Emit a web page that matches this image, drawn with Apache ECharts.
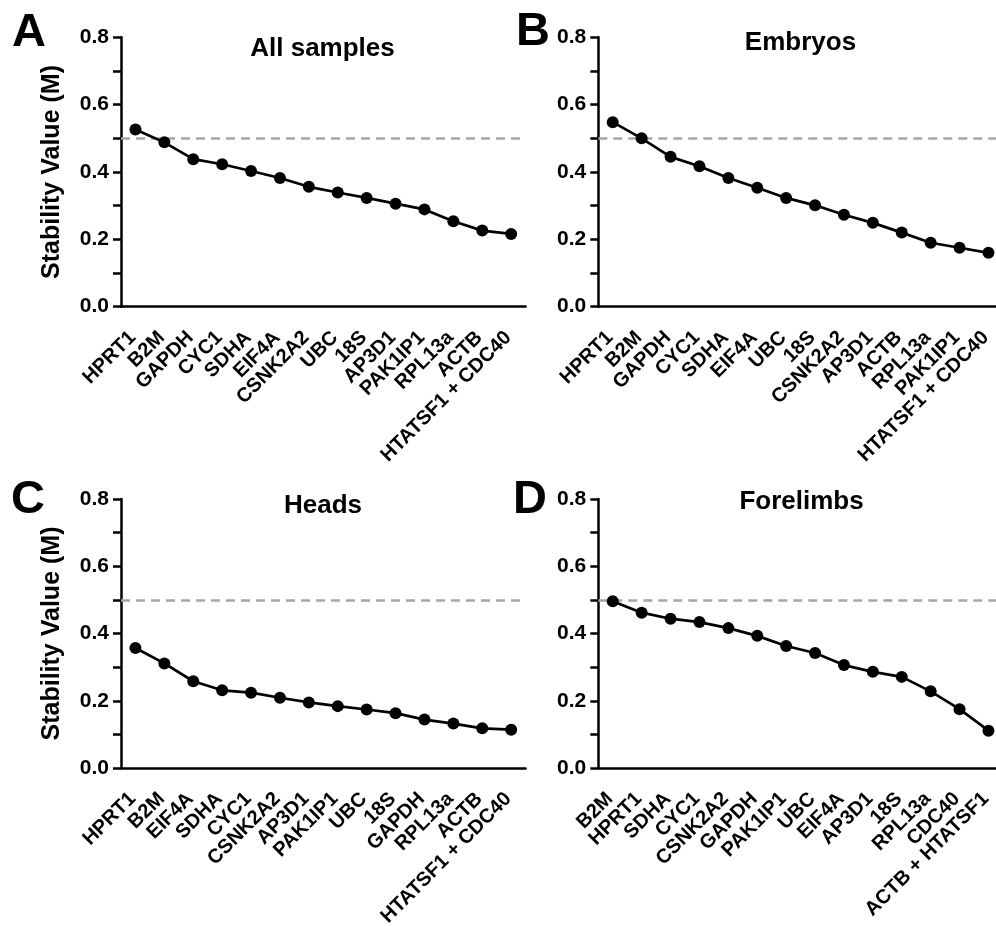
<!DOCTYPE html>
<html>
<head>
<meta charset="utf-8">
<script src="https://cdn.jsdelivr.net/npm/echarts@6/dist/echarts.min.js"></script>
<style>
html,body{margin:0;padding:0;background:#fff;}
#chart{width:996px;height:926px;}
</style>
</head>
<body>
<div id="chart"></div>
<script>
// ---- Data ----
const catsA = ['HPRT1','B2M','GAPDH','CYC1','SDHA','EIF4A','CSNK2A2','UBC','18S','AP3D1','PAK1IP1','RPL13a','ACTB','HTATSF1 + CDC40'];
const valsA = [0.526,0.488,0.438,0.423,0.403,0.382,0.356,0.339,0.323,0.306,0.289,0.254,0.226,0.216];

const catsB = ['HPRT1','B2M','GAPDH','CYC1','SDHA','EIF4A','UBC','18S','CSNK2A2','AP3D1','ACTB','RPL13a','PAK1IP1','HTATSF1 + CDC40'];
const valsB = [0.548,0.500,0.445,0.417,0.382,0.353,0.323,0.301,0.273,0.249,0.220,0.190,0.175,0.160];

const catsC = ['HPRT1','B2M','EIF4A','SDHA','CYC1','CSNK2A2','AP3D1','PAK1IP1','UBC','18S','GAPDH','RPL13a','ACTB','HTATSF1 + CDC40'];
const valsC = [0.357,0.311,0.258,0.231,0.224,0.209,0.195,0.184,0.174,0.163,0.144,0.132,0.118,0.114];

const catsD = ['B2M','HPRT1','SDHA','CYC1','CSNK2A2','GAPDH','PAK1IP1','UBC','EIF4A','AP3D1','18S','RPL13a','CDC40','ACTB + HTATSF1'];
const valsD = [0.496,0.462,0.444,0.434,0.416,0.393,0.363,0.342,0.306,0.286,0.271,0.228,0.175,0.111];

const panelTitles = ['All samples','Embryos','Heads','Forelimbs'];
const panelLetters = ['A','B','C','D'];
const yTitle = 'Stability Value (M)';
const threshold = 0.5;
const yMin = 0, yMax = 0.8, yStep = 0.1;

// ---- Layout ----
const FONT = 'Arial, "Liberation Sans", Helvetica, sans-serif';
const grids = [
  {left:121, top:37.3, width:404.6, height:269.4, outerBoundsMode:'none', containLabel:false},
  {left:598.3, top:37.3, width:404.6, height:269.4, outerBoundsMode:'none', containLabel:false},
  {left:121, top:499, width:404.6, height:269, outerBoundsMode:'none', containLabel:false},
  {left:598.3, top:499, width:404.6, height:269, outerBoundsMode:'none', containLabel:false}
];
const cats = [catsA, catsB, catsC, catsD];
const vals = [valsA, valsB, valsC, valsD];

const xAxes = cats.map((c,i)=>({
  type:'category', gridIndex:i, data:c, boundaryGap:true,
  axisLine:{lineStyle:{color:'#000', width:2.5}},
  axisTick:{alignWithLabel:true, length:10, lineStyle:{color:'#000', width:2.5}},
  axisLabel:{rotate:45, interval:0, margin:25, padding:[0,4,0,0], color:'#000', fontWeight:'bold', fontSize:20, fontFamily:FONT},
  splitLine:{show:false}
}));
const yAxes = cats.map((c,i)=>({
  type:'value', gridIndex:i, min:yMin, max:yMax, interval:yStep,
  name:(i%2===0)?yTitle:'', nameLocation:'middle', nameGap:56, nameRotate:90,
  nameTextStyle:{color:'#000', fontWeight:'bold', fontSize:25, fontFamily:FONT},
  axisLine:{show:true, lineStyle:{color:'#000', width:2.5}},
  axisTick:{show:true, length:8, lineStyle:{color:'#000', width:2.5}},
  axisLabel:{color:'#000', fontWeight:'bold', fontSize:21, margin:12, fontFamily:FONT,
    formatter:v=>{const k=Math.round(v*10); return k%2===0 ? (k/10).toFixed(1) : '';}},
  splitLine:{show:false}
}));
const series = vals.map((v,i)=>({
  type:'line', xAxisIndex:i, yAxisIndex:i, data:v,
  symbol:'circle', symbolSize:12, showSymbol:true,
  lineStyle:{color:'#000', width:2.7},
  itemStyle:{color:'#000'},
  z:3,
  markLine:{silent:true, symbol:['none','none'], label:{show:false}, z:1,
    lineStyle:{color:'#a6a6a6', width:2.5, type:[9,6]},
    data:[{yAxis:threshold}]}
}));

const titlePos = [[322.5,49],[800.5,43],[323,506],[801.5,502]];
const letterPos = [[12,33],[516,32],[11,500],[513,500]];
const graphics = [];
panelTitles.forEach((t,i)=>{
  graphics.push({type:'text', x:titlePos[i][0], y:titlePos[i][1], z:10,
    style:{text:t, fill:'#000', font:'bold 26px '+FONT, textAlign:'center', textVerticalAlign:'middle'}});
});
panelLetters.forEach((t,i)=>{
  graphics.push({type:'text', x:letterPos[i][0], y:letterPos[i][1], z:10,
    style:{text:t, fill:'#000', font:'bold 47px '+FONT, textAlign:'left', textVerticalAlign:'middle'}});
});

const chart = echarts.init(document.getElementById('chart'), null, {renderer:'canvas'});
chart.setOption({
  animation:false,
  backgroundColor:'#fff',
  grid:grids,
  xAxis:xAxes,
  yAxis:yAxes,
  series:series,
  graphic:graphics
});
</script>
</body>
</html>
